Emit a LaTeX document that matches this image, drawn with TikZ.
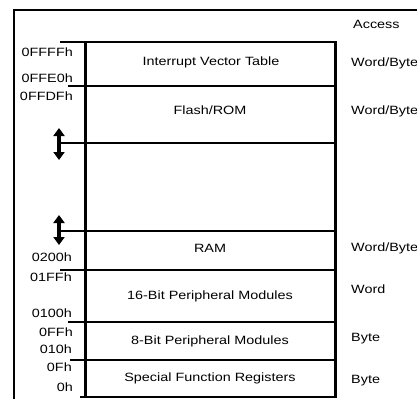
\documentclass[tikz,border=0pt]{standalone}
\usepackage{fontspec}
\setmainfont{Liberation Sans}[FakeStretch=1.2]
\usetikzlibrary{arrows.meta}
\begin{document}
\begin{tikzpicture}[x=1pt,y=-1pt,
  lbl/.style={font=\fontsize{12}{14}\selectfont, inner sep=0pt, text height=8.6pt, text depth=0pt},
  addr/.style={lbl, anchor=east},
  acc/.style={lbl, anchor=west},
  sect/.style={lbl, anchor=center},
  frame/.style={line width=1.3pt},
  sepline/.style={line width=1.8pt},
  tick/.style={line width=1.2pt},
  wall/.style={line width=3pt},
  dbl/.style={line width=3.6pt, {Triangle[width=11pt,length=8pt]}-{Triangle[width=11pt,length=8pt]}}
]
\useasboundingbox (0,0) rectangle (417,399);
% outer frame
\draw[frame] (417,10) -- (14,10) -- (14,399);
% separators inside the box
\foreach \yy in {42,86,143,231,270,322,360,397}
  \draw[sepline] (85,\yy) -- (335,\yy);
% ticks left of the box
\draw[tick] (60,42) -- (85,42);
\draw[tick] (68,86) -- (85,86);
\draw[tick] (60,143) -- (85,143);
\draw[tick] (60,231) -- (85,231);
\draw[sepline] (60,270) -- (85,270);
\draw[sepline] (68,322) -- (85,322);
\draw[sepline] (70,360) -- (85,360);
\draw[sepline] (80,397) -- (85,397);
% walls
\draw[wall] (85,41) -- (85,398);
\draw[wall] (335,41) -- (335,398);
% double arrows
\coordinate (a1t) at (59,128); \coordinate (a1b) at (59,160);
\coordinate (a2t) at (59,215); \coordinate (a2b) at (59,245);
\draw[dbl] (a1t) -- (a1b);
\draw[dbl] (a2t) -- (a2b);
% section texts
\node[sect] (ivt) at (211,61) {Interrupt Vector Table};
\node[sect] (flash) at (210,110) {Flash/ROM};
\node[sect] (ram) at (210,248) {RAM};
\node[sect] (p16) at (210,295) {16-Bit Peripheral Modules};
\node[sect] (p8) at (210,340) {8-Bit Peripheral Modules};
\node[sect] (sfr) at (210,377) {Special Function Registers};
% addresses
\node[addr] (ad1) at (73,52) {0FFFFh};
\node[addr] (ad2) at (73,78) {0FFE0h};
\node[addr] (ad3) at (73,96) {0FFDFh};
\node[addr] (ad4) at (72,257) {0200h};
\node[addr] (ad5) at (72,277) {01FFh};
\node[addr] (ad6) at (72,313) {0100h};
\node[addr] (ad7) at (73,332) {0FFh};
\node[addr] (ad8) at (72,349) {010h};
\node[addr] (ad9) at (72,367) {0Fh};
\node[addr] (ad10) at (73,387) {0h};
% access
\node[acc] (acch) at (353,24) {Access};
\node[acc] (ac1) at (351,62) {Word/Byte};
\node[acc] (ac2) at (351,110) {Word/Byte};
\node[acc] (ac3) at (351,247) {Word/Byte};
\node[acc] (ac4) at (351,289) {Word};
\node[acc] (ac5) at (351,337) {Byte};
\node[acc] (ac6) at (351,379) {Byte};
\end{tikzpicture}
\end{document}
